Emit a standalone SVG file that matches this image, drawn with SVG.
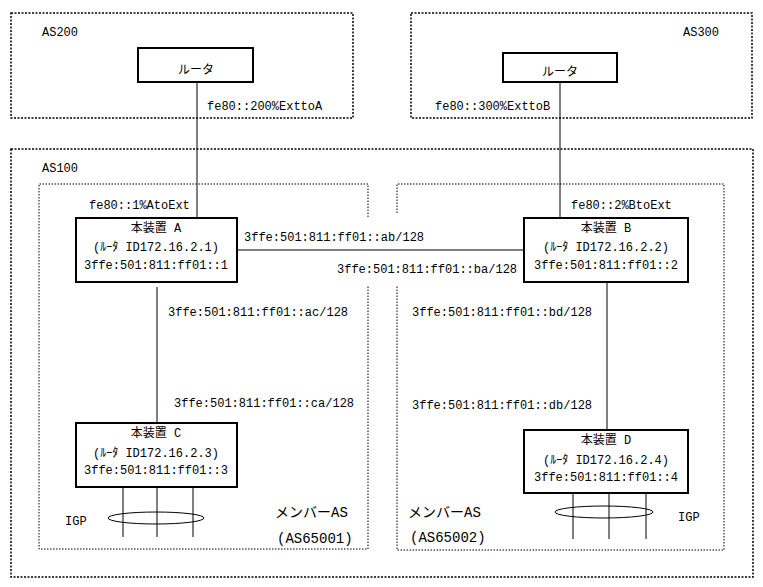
<svg xmlns="http://www.w3.org/2000/svg" width="763" height="587" viewBox="0 0 763 587">
<style>
text{font-family:"Liberation Mono","Noto Sans CJK JP",monospace;font-size:12px;fill:#000}
.big{font-size:14px}
.mid{text-anchor:middle}
.outer{fill:none;stroke:#000;stroke-width:1.5;stroke-dasharray:2 1.5}
.inner{fill:none;stroke:#000;stroke-width:1;stroke-dasharray:1.5 1.5}
.node{fill:#fff;stroke:#000;stroke-width:2}
.ln{fill:none;stroke:#000;stroke-width:1}
</style>
<rect width="763" height="587" fill="#fff"/>
<g id="as200">
<rect class="outer" x="11" y="13" width="342" height="105"/>
<text x="42" y="36">AS200</text>
</g>
<g id="as300">
<rect class="outer" x="411" y="13" width="341" height="105"/>
<text x="683" y="36">AS300</text>
</g>
<g id="as100">
<rect class="outer" x="11" y="149" width="742" height="428"/>
<text x="42" y="172">AS100</text>
</g>
<g id="member1">
<path class="inner" d="M368 217 V184 H39 V549 H368 V285"/>
<text class="big" x="275" y="517">メンバーAS</text>
<text class="big" x="277" y="543">(AS65001)</text>
</g>
<g id="member2">
<path class="inner" d="M397 213 V184 H724 V550 H397 V285"/>
<text class="big" x="408" y="517">メンバーAS</text>
<text class="big" x="410" y="542">(AS65002)</text>
</g>
<g id="connectors">
<line class="ln" x1="197" y1="82" x2="197" y2="218"/>
<line class="ln" x1="560" y1="82" x2="560" y2="218"/>
<line class="ln" x1="237" y1="250" x2="524" y2="250"/>
<line class="ln" x1="157" y1="287" x2="157" y2="423"/>
<line class="ln" x1="607" y1="282" x2="607" y2="430"/>
<line class="ln" x1="123" y1="487" x2="123" y2="537"/>
<line class="ln" x1="157" y1="487" x2="157" y2="537"/>
<line class="ln" x1="193" y1="487" x2="193" y2="537"/>
<ellipse class="ln" cx="156" cy="518" rx="48" ry="6"/>
<line class="ln" x1="573" y1="493" x2="573" y2="539"/>
<line class="ln" x1="609" y1="493" x2="609" y2="539"/>
<line class="ln" x1="646" y1="493" x2="646" y2="539"/>
<ellipse class="ln" cx="604" cy="512" rx="49" ry="6"/>
<text x="207" y="110">fe80::200%ExttoA</text>
<text x="435" y="110">fe80::300%ExttoB</text>
<text x="89" y="209">fe80::1%AtoExt</text>
<text x="571" y="209">fe80::2%BtoExt</text>
<text x="244" y="241">3ffe:501:811:ff01::ab/128</text>
<text x="337" y="273">3ffe:501:811:ff01::ba/128</text>
<text x="168" y="316">3ffe:501:811:ff01::ac/128</text>
<text x="174" y="407">3ffe:501:811:ff01::ca/128</text>
<text x="412" y="316">3ffe:501:811:ff01::bd/128</text>
<text x="412" y="409">3ffe:501:811:ff01::db/128</text>
<text x="65" y="525">IGP</text>
<text x="678" y="521">IGP</text>
</g>
<g id="routerA">
<rect class="node" x="138" y="48" width="115" height="34"/>
<text class="mid" x="196" y="74">ルータ</text>
</g>
<g id="routerB">
<rect class="node" x="503" y="53" width="114" height="29"/>
<text class="mid" x="560" y="76">ルータ</text>
</g>
<g id="nodeA">
<rect class="node" x="76" y="218" width="161" height="64"/>
<text class="mid" x="156" y="232">本装置 A</text>
<text class="mid" x="156" y="251">(ﾙｰﾀ ID172.16.2.1)</text>
<text class="mid" x="156" y="269">3ffe:501:811:ff01::1</text>
</g>
<g id="nodeB">
<rect class="node" x="524" y="218" width="164" height="64"/>
<text class="mid" x="606" y="232">本装置 B</text>
<text class="mid" x="606" y="251">(ﾙｰﾀ ID172.16.2.2)</text>
<text class="mid" x="606" y="269">3ffe:501:811:ff01::2</text>
</g>
<g id="nodeC">
<rect class="node" x="76" y="423" width="161" height="64"/>
<text class="mid" x="156" y="437">本装置 C</text>
<text class="mid" x="156" y="457">(ﾙｰﾀ ID172.16.2.3)</text>
<text class="mid" x="156" y="474">3ffe:501:811:ff01::3</text>
</g>
<g id="nodeD">
<rect class="node" x="524" y="430" width="164" height="63"/>
<text class="mid" x="606" y="444">本装置 D</text>
<text class="mid" x="606" y="464">(ﾙｰﾀ ID172.16.2.4)</text>
<text class="mid" x="606" y="481">3ffe:501:811:ff01::4</text>
</g>
</svg>
